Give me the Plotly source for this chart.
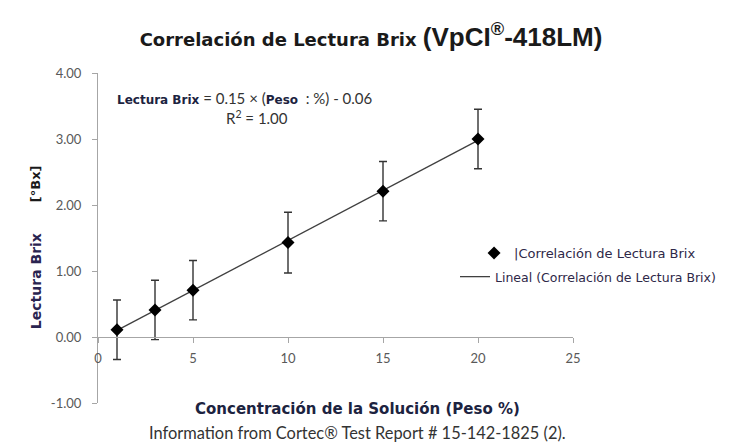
import numpy as np
import plotly.graph_objects as go

# ---- data ----
concentracion = [1, 3, 5, 10, 15, 20]            # Peso %
lectura_brix = [0.11, 0.41, 0.71, 1.43, 2.21, 3.00]  # °Bx
error_brix = [0.45, 0.45, 0.45, 0.46, 0.45, 0.45]

x_ticks = [0, 5, 10, 15, 20, 25]
y_ticks = [-1, 0, 1, 2, 3, 4]
y_tick_labels = ["-1.00", "0.00", "1.00", "2.00", "3.00", "4.00"]

serie_nombre = "|Correlación de Lectura Brix"
trend_nombre = "Lineal (Correlación de Lectura Brix)"

# linear trendline
slope, intercept = np.polyfit(concentracion, lectura_brix, 1)
x_fit = [min(concentracion), max(concentracion)]
y_fit = [slope * v + intercept for v in x_fit]

NAVY = "#1c2340"
GRAY_AX = "#a6a6a6"
TICK_COL = "#595959"

# the page body has an 8px margin; size the figure so it fits the window
OFF = 8
W, H = 732 - OFF, 444 - OFF

fig = go.Figure()

fig.add_trace(go.Scatter(
    x=x_fit, y=y_fit, mode="lines", name=trend_nombre,
    line=dict(color="#404040", width=1.3),
    legend="legend2", hoverinfo="skip",
))

fig.add_trace(go.Scatter(
    x=concentracion, y=lectura_brix, mode="markers", name=serie_nombre,
    marker=dict(symbol="diamond", size=10, color="black"),
    error_y=dict(type="data", array=error_brix, visible=True,
                 color="#333333", thickness=1.4, width=4),
    legend="legend",
))

fig.update_layout(
    width=W, height=H,
    margin=dict(l=98 - OFF, r=W - (574 - OFF), t=73 - OFF, b=H - (403 - OFF)),
    paper_bgcolor="white", plot_bgcolor="white",
    font=dict(family="Lato", color=TICK_COL),
    title=dict(
        text=("<span style='font-family:DejaVu Sans;font-size:18px'><b>Correlación de Lectura Brix </b></span>"
              "<span style='font-family:Liberation Sans;font-size:26px'><b>(VpCI<sup>®</sup>-418LM)</b></span>"),
        x=(371 - OFF) / W, xref="container", xanchor="center",
        y=1 - (40 - OFF) / H, yref="container", yanchor="middle",
        font=dict(color="#1a1a1a"),
    ),
    xaxis=dict(
        range=[0, 25], tickvals=x_ticks, ticktext=[str(v) for v in x_ticks],
        anchor="free", position=0.2, automargin=False,
        showline=True, linecolor=GRAY_AX, linewidth=1,
        ticks="outside", ticklen=5, tickcolor=GRAY_AX,
        showgrid=False, zeroline=False,
        tickfont=dict(family="Lato", size=13, color=TICK_COL),
        ticklabelstandoff=4,
    ),
    yaxis=dict(
        range=[-1, 4], tickvals=y_ticks, ticktext=y_tick_labels,
        automargin=False,
        showline=True, linecolor=GRAY_AX, linewidth=1,
        ticks="outside", ticklen=5, tickcolor=GRAY_AX,
        showgrid=False, zeroline=False,
        tickfont=dict(family="Lato", size=13, color=TICK_COL),
        ticklabelstandoff=8,
    ),
    legend=dict(
        x=0.79, y=(403 - 253) / 330, xanchor="left", yanchor="middle",
        font=dict(family="DejaVu Sans", size=13, color="#2e2848"),
        bgcolor="rgba(0,0,0,0)",
    ),
    legend2=dict(
        x=0.75, y=(403 - 277) / 330, xanchor="left", yanchor="middle",
        font=dict(family="DejaVu Sans", size=12.5, color="#2e2848"),
        bgcolor="rgba(0,0,0,0)",
    ),
    showlegend=True,
)

eq_text = ("<span style='font-family:DejaVu Sans;font-size:12px;color:#1c2340'><b>Lectura Brix</b></span>"
           "<span style='font-family:Lato;font-size:15px'> = 0.15 × (</span>"
           "<span style='font-family:DejaVu Sans;font-size:12px;color:#1c2340'><b>Peso</b></span>"
           "<span style='font-family:Lato;font-size:15px'>  : %) - 0.06</span>")

annotations = [
    dict(text=eq_text, x=245, y=98, font=dict(color="#333333")),
    dict(text="R<sup>2</sup> = 1.00", x=257, y=117,
         font=dict(family="Lato", size=15, color="#333333")),
    dict(text="<b>Concentración de la Solución (Peso %)</b>", x=358, y=409,
         font=dict(family="DejaVu Sans", size=15, color=NAVY)),
    dict(text="Information from Cortec® Test Report # 15-142-1825 (2).", x=358, y=432,
         font=dict(family="Lato", size=16.4, color="#333333")),
    dict(text="<b>Lectura Brix</b>", x=36, y=281, textangle=-90,
         font=dict(family="DejaVu Sans", size=14, color="#2a2450")),
    dict(text="<b>[°Bx]</b>", x=35, y=184, textangle=-90,
         font=dict(family="DejaVu Sans", size=13, color="#1a1a1a")),
]
for a in annotations:
    px, py = a.pop("x"), a.pop("y")
    fig.add_annotation(
        x=(px - 98) / 476, y=(403 - py) / 330, xref="paper", yref="paper",
        xanchor="center", yanchor="middle", showarrow=False, **a)

fig.write_html("out.html")
